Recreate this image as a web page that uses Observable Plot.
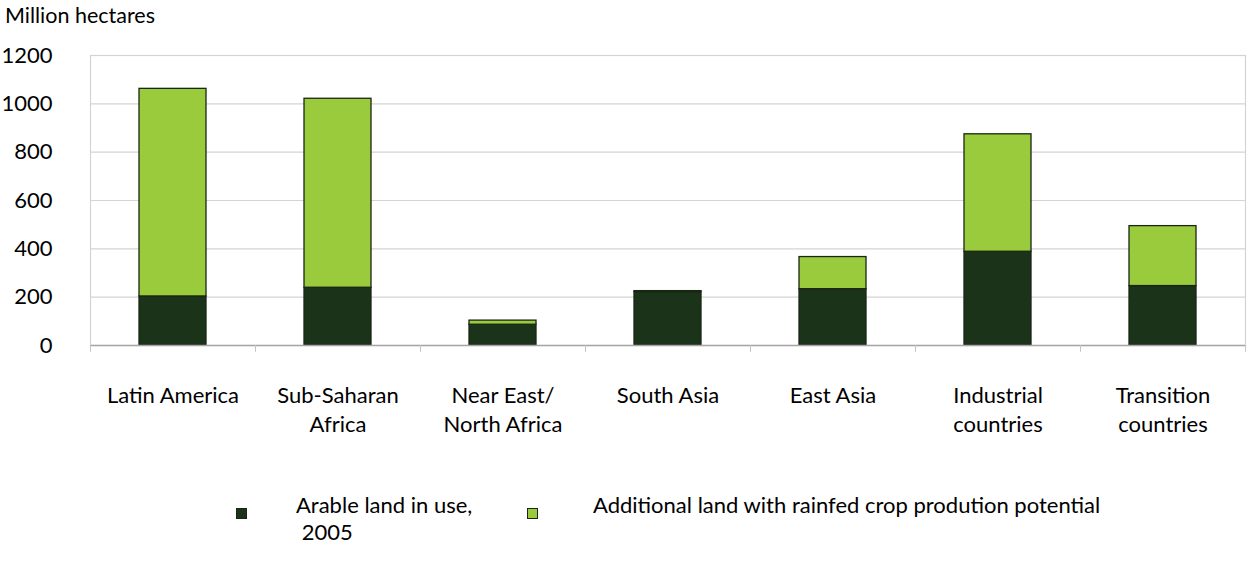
<!DOCTYPE html>
<html><head><meta charset="utf-8">
<script src="https://cdn.jsdelivr.net/npm/d3@7"></script>
<script src="https://cdn.jsdelivr.net/npm/@observablehq/plot@0.6"></script>
<style>
body{margin:0;background:#fff;font-family:Lato,"Liberation Sans",Arial,sans-serif;color:#000;}
#wrap{position:relative;width:1248px;height:574px;overflow:hidden;}
#title{position:absolute;left:5px;top:2px;font-size:21.5px;line-height:27px;}
#chart{position:absolute;left:0;top:40px;}
.lg-sw{position:absolute;width:11px;height:11px;box-sizing:border-box;border:1px solid #1a2614;}
.lg-tx{position:absolute;font-size:22px;line-height:27px;white-space:pre;}
</style></head><body>
<div id="wrap">
  <div id="title">Million hectares</div>
  <div id="chart"></div>
  <div id="legend"></div>
</div>
<script>
// ---- data ----
const regions = ["Latin America","Sub-Saharan Africa","Near East/North Africa","South Asia","East Asia","Industrial countries","Transition countries"];
const regionLabels = ["Latin America","Sub-Saharan\nAfrica","Near East/\nNorth Africa","South Asia","East Asia","Industrial\ncountries","Transition\ncountries"];
const arableInUse = [203, 239, 86, 221, 233, 388, 246];
const additionalPotential = [859, 782, 17, 4, 133, 486, 248];
const seriesNames = ["Arable land in use, 2005", "Additional land with rainfed crop prodution potential"];
const legendLabels = ["Arable land in use,\n 2005", "Additional land with rainfed crop prodution potential"];
const seriesColors = ["#1b3318", "#9acb3c"];
const yTicks = [0, 200, 400, 600, 800, 1000, 1200];

// ---- chart ----
const W = 1248, H = 415, mL = 90, mR = 3, mT = 15, mB = 110;
const step = (W - mL - mR) / regions.length;
const table = regions.flatMap((r, i) => [
  {region: r, series: seriesNames[0], value: arableInUse[i]},
  {region: r, series: seriesNames[1], value: additionalPotential[i]}
]);
const labelOf = new Map(regions.map((r, i) => [r, regionLabels[i]]));

const chart = Plot.plot({
  width: W, height: H,
  marginLeft: mL, marginRight: mR, marginTop: mT, marginBottom: mB,
  style: {fontFamily: 'Lato, "Liberation Sans", Arial, sans-serif', fontSize: "22px", color: "#000", background: "#fff", overflow: "visible"},
  x: {domain: regions, paddingInner: 0.594, paddingOuter: 0.297, axis: null},
  y: {domain: [0, 1200]},
  color: {domain: seriesNames, range: seriesColors},
  marks: [
    Plot.ruleY(yTicks.filter(d => d > 0), {stroke: "#d4d4d4", strokeWidth: 1.2}),
    Plot.frame({stroke: "#d4d4d4", strokeWidth: 1.2}),
    Plot.barY(table, {x: "region", y: "value", fill: "series", stroke: "#1a2614", strokeWidth: 1.3}),
    Plot.ruleY([0], {stroke: "#a6a6a6", strokeWidth: 1.5}),
    Plot.ruleX(regions, {x: d => d, y1: 0, y2: -28, dx: -step / 2, stroke: "#c4c4c4"}),
    Plot.ruleX([regions[regions.length - 1]], {x: d => d, y1: 0, y2: -28, dx: step / 2, stroke: "#c4c4c4"}),
    Plot.axisY(yTicks, {tickSize: 0, tickPadding: 38, fontSize: 22, label: null, tickFormat: d => String(d)}),
    Plot.text(regions, {x: d => d, text: d => labelOf.get(d), frameAnchor: "bottom", lineAnchor: "top", dy: 37, lineHeight: 1.32, fontSize: 22, fill: "#000"})
  ]
});
document.getElementById("chart").appendChild(chart);

// ---- legend ----
const legend = document.getElementById("legend");
const swLeft = [236, 527], txLeft = [296, 593];
seriesNames.forEach((s, i) => {
  const sw = document.createElement("div");
  sw.className = "lg-sw";
  sw.style.left = swLeft[i] + "px";
  sw.style.top = "508px";
  sw.style.background = seriesColors[i];
  legend.appendChild(sw);
  const tx = document.createElement("div");
  tx.className = "lg-tx";
  tx.style.left = txLeft[i] + "px";
  tx.style.top = "491px";
  tx.textContent = legendLabels[i];
  legend.appendChild(tx);
});
</script>
</body></html>
